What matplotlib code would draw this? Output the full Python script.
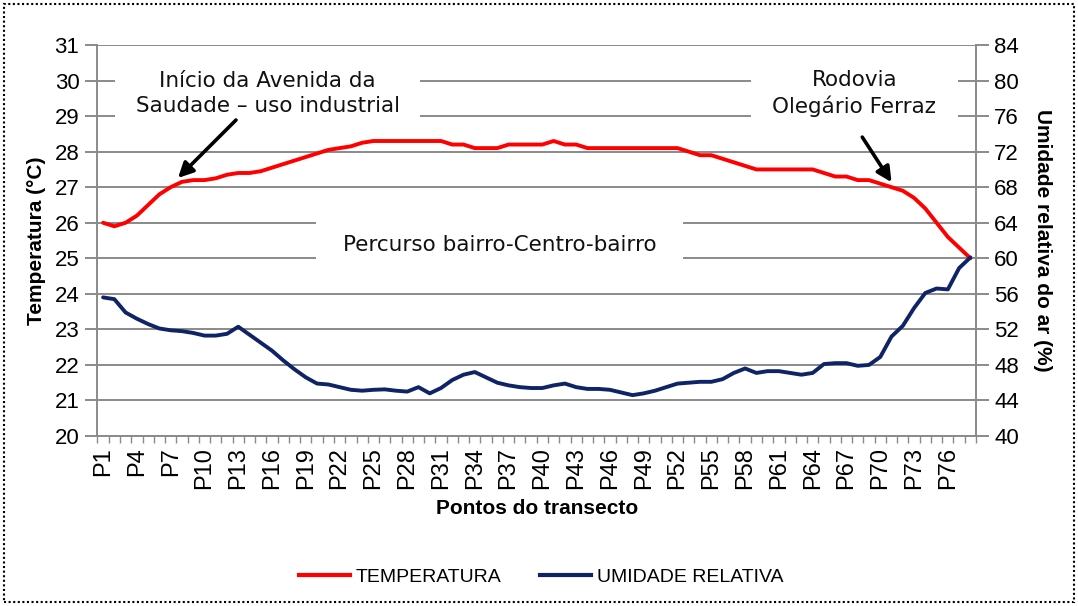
import matplotlib
matplotlib.use("Agg")
import matplotlib.pyplot as plt
from matplotlib import font_manager as fm
from matplotlib.ticker import FixedLocator, NullFormatter
from matplotlib.lines import Line2D
from matplotlib.patches import Rectangle

# ---------------- data ----------------
pontos = [f"P{i}" for i in range(1, 79)]
temperatura = [26.0, 25.9, 26.0, 26.2, 26.5, 26.8, 27.0, 27.15, 27.2, 27.2,
               27.25, 27.35, 27.4, 27.4, 27.45, 27.55, 27.65, 27.75, 27.85, 27.95,
               28.05, 28.1, 28.15, 28.25, 28.3, 28.3, 28.3, 28.3, 28.3, 28.3,
               28.3, 28.2, 28.2, 28.1, 28.1, 28.1, 28.2, 28.2, 28.2, 28.2,
               28.3, 28.2, 28.2, 28.1, 28.1, 28.1, 28.1, 28.1, 28.1, 28.1,
               28.1, 28.1, 28.0, 27.9, 27.9, 27.8, 27.7, 27.6, 27.5, 27.5,
               27.5, 27.5, 27.5, 27.5, 27.4, 27.3, 27.3, 27.2, 27.2, 27.1,
               27.0, 26.9, 26.7, 26.4, 26.0, 25.6, 25.3, 25.0]
umidade = [55.6, 55.4, 53.9, 53.2, 52.6, 52.1, 51.9, 51.8, 51.6, 51.3,
           51.3, 51.5, 52.3, 51.4, 50.5, 49.6, 48.5, 47.5, 46.6, 45.9,
           45.8, 45.5, 45.2, 45.1, 45.2, 45.25, 45.1, 45.0, 45.5, 44.8,
           45.4, 46.3, 46.9, 47.2, 46.6, 46.0, 45.7, 45.5, 45.4, 45.4,
           45.7, 45.9, 45.5, 45.3, 45.3, 45.2, 44.9, 44.6, 44.8, 45.1,
           45.5, 45.9, 46.0, 46.1, 46.1, 46.4, 47.1, 47.6, 47.1, 47.3,
           47.3, 47.1, 46.9, 47.1, 48.1, 48.2, 48.2, 47.9, 48.0, 48.9,
           51.2, 52.4, 54.4, 56.1, 56.6, 56.5, 58.9, 60.1]
temp_ticks = list(range(20, 32))
umid_ticks = list(range(40, 85, 4))

# ---------------- fonts ----------------
available = {f.name for f in fm.fontManager.ttflist}
narrow = "Liberation Sans Narrow" if "Liberation Sans Narrow" in available else "Liberation Sans"
plt.rcParams["font.family"] = ["DejaVu Sans"]

RED = "#ff0000"
NAVY = "#0f2466"
GRID = "#8a8a8a"

fig = plt.figure(figsize=(10.78, 6.06), dpi=100)
ax = fig.add_axes([0.0904, 0.2805, 0.8150, 0.6452])
ax2 = ax.twinx()

x = list(range(1, len(pontos) + 1))

ax.set_axisbelow(True)
ax.plot(x, temperatura, color=RED, lw=2.8, zorder=3, solid_capstyle="round")
ax2.plot(x, umidade, color=NAVY, lw=2.8, zorder=3, solid_capstyle="round")

ax.set_xlim(0.5, len(pontos) + 0.5)
ax.set_ylim(20, 31)
ax2.set_ylim(40, 84)
ax.set_yticks(temp_ticks)
ax2.set_yticks(umid_ticks)

ax.yaxis.grid(True, color=GRID, lw=1.4, zorder=0.5)

# x ticks: labels every third point, small tick marks between categories
ax.set_xticks(x[::3])
ax.set_xticklabels(pontos[::3], rotation=90, fontfamily=narrow, fontsize=17)
ax.tick_params(axis="x", length=0, pad=8)
ax.xaxis.set_minor_locator(FixedLocator([i + 0.5 for i in range(0, len(pontos) + 1)]))
ax.xaxis.set_minor_formatter(NullFormatter())
ax.tick_params(axis="x", which="minor", length=5, color=GRID, width=1)

for a in (ax, ax2):
    for s in a.spines.values():
        s.set_color(GRID)
        s.set_linewidth(1.2)
    a.spines["top"].set_visible(False)
ax.tick_params(axis="y", length=9, color=GRID, width=1.4, pad=4)
ax2.tick_params(axis="y", length=9, color=GRID, width=1.4, pad=4)
for lab in ax.get_yticklabels() + ax2.get_yticklabels():
    lab.set_fontfamily(narrow)
    lab.set_fontsize(16)

ax.set_ylabel("Temperatura (°C)", fontfamily="Liberation Sans", fontweight="bold",
              fontsize=15, labelpad=6)
ax2.set_ylabel("Umidade relativa do ar (%)", fontfamily="Liberation Sans",
               fontweight="bold", fontsize=15, rotation=270, labelpad=24)
ax.set_xlabel("Pontos do transecto", fontfamily=narrow, fontweight="bold",
              fontsize=15, labelpad=7)

# ---------------- annotations ----------------
ax.text(15.6, 29.64, "Início da Avenida da\nSaudade – uso industrial", ha="center",
        va="center", fontsize=15.5, linespacing=1.3,
        bbox=dict(boxstyle="square,pad=0.95", fc="white", ec="none"),
        zorder=1.5, color="#111111")
ax.text(67.7, 29.64, "Rodovia\nOlegário Ferraz", ha="center", va="center", fontsize=15.5,
        linespacing=1.3, bbox=dict(boxstyle="square,pad=1.0", fc="white", ec="none"),
        zorder=1.5, color="#111111")
ax.text(36.2, 25.37, "Percurso bairro-Centro-bairro", ha="center", va="center",
        fontsize=15.5, bbox=dict(boxstyle="square,pad=1.25", fc="white", ec="none"),
        zorder=1.5, color="#111111")

arrow = dict(arrowstyle="-|>,head_length=0.9,head_width=0.45", color="black", lw=2.6,
             shrinkA=0, shrinkB=0)
ax.annotate("", xy=(7.65, 27.26), xytext=(12.8, 28.89), arrowprops=arrow, zorder=4)
ax.annotate("", xy=(71.0, 27.14), xytext=(68.4, 28.41), arrowprops=arrow, zorder=4)

# ---------------- legend ----------------
handles = [Line2D([], [], color=RED, lw=3), Line2D([], [], color=NAVY, lw=3)]
fig.legend(handles, ["TEMPERATURA", "UMIDADE RELATIVA"], loc="center",
           bbox_to_anchor=(0.502, 0.048), ncol=2, frameon=False, handlelength=2.6,
           handletextpad=0.3, columnspacing=2.0,
           prop={"family": "Liberation Sans", "size": 14})

# dotted border around the figure
fig.patches.append(Rectangle((0.004, 0.006), 0.992, 0.988, transform=fig.transFigure,
                             fill=False, ec="black", lw=1.5, ls=(0, (1, 1.2))))

fig.savefig("out.png", dpi=100)
